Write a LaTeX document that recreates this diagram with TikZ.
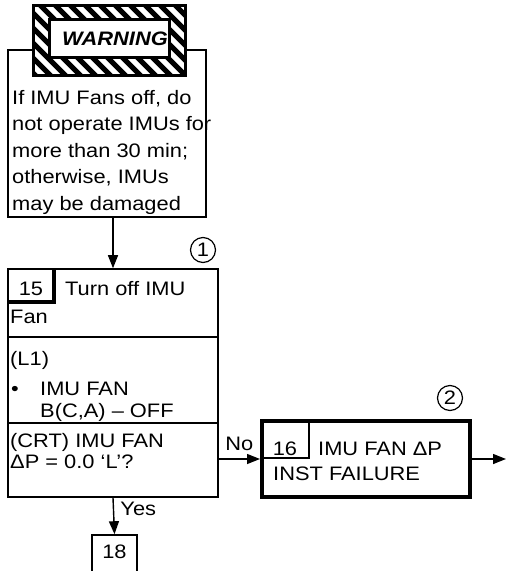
\documentclass[tikz,border=0pt]{standalone}
\usepackage{fontspec}
\setmainfont{Liberation Sans}[FakeStretch=1.12]
\usetikzlibrary{arrows.meta}
\tikzset{
  box/.style={draw, line width=1.6pt, rectangle, inner sep=0pt},
  arr/.style={line width=1.4pt, -{Triangle[length=13pt,width=10pt]}},
  txt/.style={inner sep=0pt, anchor=base west},
  num/.style={draw, circle, line width=1.2pt, minimum size=25pt, inner sep=0pt},
}
\begin{document}
\begin{tikzpicture}[x=1pt,y=-1pt,font=\fontsize{19.5}{26.5}\selectfont]
  \useasboundingbox (0,0) rectangle (506,571);
  \clip (0,0) rectangle (506,571);
  % note with warning sign
  \node[box, minimum width=198pt, minimum height=167pt] (note) at (107,133.5) {};
  \node[txt, anchor=north west, align=left] (notetxt) at (12,90)
    {If IMU Fans off, do\\ not operate IMUs for\\ more than 30 min;\\ otherwise, IMUs\\ may be damaged};
  \fill[white] (33,5) rectangle (185,75);
  \begin{scope}
    \clip (33,5) rectangle (185,75);
    \foreach \i in {0,...,19}
      \draw[line width=5pt] (\i*15-60,-5) -- ++(85,85);
  \end{scope}
  \draw[line width=3pt] (33,5) rectangle (185,75);
  \node[draw, fill=white, line width=3pt, minimum width=120pt, minimum height=38pt] (warn) at (109,38) {};
  \node[txt, anchor=base, font=\fontsize{19.5}{22}\selectfont\bfseries\itshape] (warntxt) at (115,45) {WARNING};
  % step 15
  \node[box, minimum width=210pt, minimum height=228pt] (b15) at (113,383) {};
  \draw[line width=1.6pt] (b15.west |- 0,337) -- (b15.east |- 0,337);
  \draw[line width=1.6pt] (b15.west |- 0,423) -- (b15.east |- 0,423);
  \draw[line width=3.2pt] (54,269) -- (54,302) -- (8,302);
  \node[txt, anchor=base] at (31,295) {15};
  \node[txt] at (65,295) {Turn off IMU};
  \node[txt] at (10,323) {Fan};
  \node[txt] at (10,365) {(L1)};
  \node[txt] at (11,395) {\textbullet};
  \node[txt] at (40,395) {IMU FAN};
  \node[txt] at (40,417) {B(C,A) -- OFF};
  \node[txt] at (10,447) {(CRT) IMU FAN};
  \node[txt] at (10,468) {ΔP = 0.0 ‘L’?};
  \node[num] (c1) at (203,250) {1};
  % step 16
  \node[draw, line width=4pt, minimum width=208pt, minimum height=76pt] (b16) at (366,459) {};
  \draw[line width=1.2pt] (309,421) -- (309,458) -- (262,458);
  \node[txt, anchor=base] at (285,455) {16};
  \node[txt] at (318,455) {IMU FAN ΔP};
  \node[txt] at (273,480) {INST FAILURE};
  \node[num] (c2) at (450,398) {2};
  \coordinate (exit) at (506,459);
  % step 18
  \node[box, minimum width=45pt, minimum height=45pt] (b18) at (114.5,557.5) {};
  \node[txt, anchor=base] at (114.5,558) {18};
  % connectors
  \draw[arr] (note.south -| b15.north) -- (b15.north);
  \draw[arr] (b15.east |- b16.west) -- (b16.west) node[midway, above=4pt] {No};
  \draw[arr] (b16.east) -- (exit);
  \draw[arr] (b15.south) -- (b18.north) node[pos=0.3, right=3pt] {Yes};
\end{tikzpicture}
\end{document}
